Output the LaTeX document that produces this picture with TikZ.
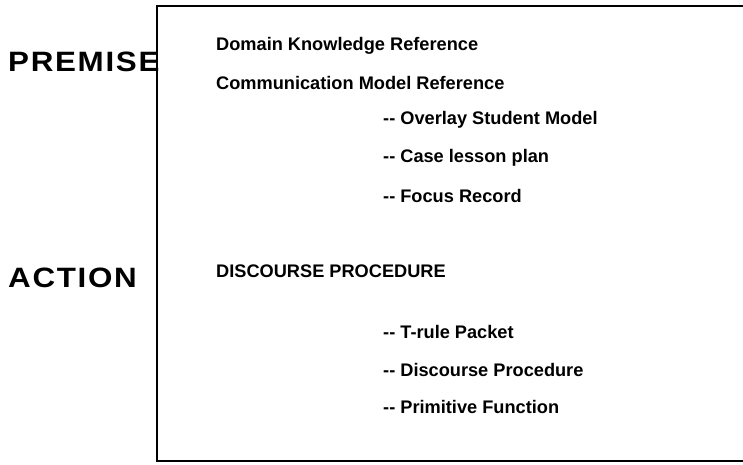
\documentclass[tikz,border=0pt]{standalone}
\usepackage{fontspec}
\setmainfont{Liberation Sans}
\newfontfamily\widefont[FakeStretch=1.12,LetterSpace=6]{Liberation Sans}
\begin{document}
\begin{tikzpicture}[x=1pt,y=-1pt,
  lbl/.style={anchor=west,inner sep=0pt,font=\widefont\fontsize{28}{31}\selectfont\bfseries},
  item/.style={anchor=west,inner sep=0pt,font=\fontsize{18.2}{21}\selectfont\bfseries},
  frame/.style={line width=2pt}]
\useasboundingbox (0,0) rectangle (743,465);
\coordinate (tl) at (157,6);
\coordinate (bl) at (157,461);
\coordinate (tr) at (743,6);
\coordinate (br) at (743,461);
\draw[frame] (tr) -- (tl) -- (bl) -- (br);
\node[lbl] (premise) at (8,62) {PREMISE};
\node[lbl] (action) at (8,278) {ACTION};
\node[item] (dk) at (216,46) {Domain Knowledge Reference};
\node[item] (cm) at (216,83) {Communication Model Reference};
\node[item] (os) at (383,120) {-{}- Overlay Student Model};
\node[item] (cl) at (383,158) {-{}- Case lesson plan};
\node[item] (fr) at (383,196) {-{}- Focus Record};
\node[item] (dp) at (216,271) {DISCOURSE PROCEDURE};
\node[item] (tp) at (383,332) {-{}- T-rule Packet};
\node[item] (dpr) at (383,370) {-{}- Discourse Procedure};
\node[item] (pf) at (383,407) {-{}- Primitive Function};
\end{tikzpicture}
\end{document}
